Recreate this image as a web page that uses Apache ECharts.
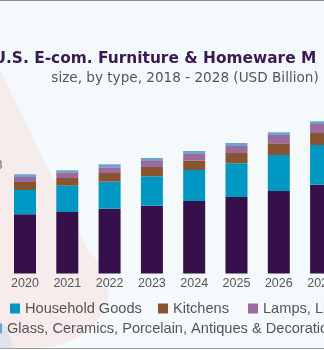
<!DOCTYPE html>
<html>
<head>
<meta charset="utf-8">
<script src="https://cdn.jsdelivr.net/npm/echarts@6/dist/echarts.min.js"></script>
<style>
  html, body { margin: 0; padding: 0; width: 324px; height: 350px; overflow: hidden; background: #f4f9fc; position: relative; }
  #chart { position: absolute; left: -100px; top: 0; width: 524px; height: 350px; }
</style>
</head>
<body>
<div id="chart"></div>
<script>
// Data (USD Billion)
var years = ['2018', '2019', '2020', '2021', '2022', '2023', '2024', '2025', '2026', '2027', '2028'];
var furniture = [54.0, 56.5, 59.2, 61.5, 64.8, 67.8, 72.5, 76.5, 82.5, 88.8, 95.5];
var household = [21.5, 23.0, 24.3, 26.3, 27.0, 29.4, 31.0, 33.7, 36.0, 39.7, 43.5];
var kitchens  = [7.2, 7.6, 8.0, 7.7, 8.7, 9.3, 9.3, 10.3, 11.7, 12.0, 13.0];
var lamps     = [4.5, 4.8, 5.0, 5.7, 5.7, 6.0, 6.7, 7.0, 8.3, 9.0, 9.8];
var glass     = [2.4, 2.5, 2.7, 2.0, 3.0, 3.0, 3.0, 3.0, 2.7, 2.7, 3.0];
var seriesNames = ['Furniture', 'Household Goods', 'Kitchens', 'Lamps, Lighting & Ceiling Fans',
                   'Glass, Ceramics, Porcelain, Antiques & Decorations'];
var seriesColors = ['#35104a', '#0097c3', '#875531', '#9c6b9e', '#6da3d3'];
var titleText = 'U.S. E-com. Furniture & Homeware Market';
var subtitleText = 'size, by type, 2018 - 2028 (USD Billion)';

var OX = 100; // container offset (page x = container x - OX)
var chart = echarts.init(document.getElementById('chart'), null, { renderer: 'canvas' });

var values = [furniture, household, kitchens, lamps, glass];
var series = values.map(function (arr, i) {
  return {
    name: seriesNames[i],
    type: 'bar',
    stack: 'total',
    barWidth: 22,
    data: arr,
    itemStyle: { color: seriesColors[i] },
    emphasis: { disabled: true }
  };
});

// title fitting: 'Furniture' starts at page x 98, 'M' of Market at page x 301
var titleFont = 'bold 16px "DejaVu Sans", sans-serif';
var mctx = document.createElement('canvas').getContext('2d');
mctx.font = titleFont;
var w1 = mctx.measureText('U.S. E-com. ').width;
var w2 = mctx.measureText('U.S. E-com. Furniture & Homeware ').width;
var tScale = (301 - 98) / (w2 - w1);
var tLeft = 98 - w1 * tScale;

var legendText = { fontSize: 14.6, color: '#555555', fontFamily: 'Liberation Sans, Arial, sans-serif' };
var legendLefts = [-85, 10, 158, 248, -8];
var legendTops = [301, 301, 301, 301, 321];
var legends = seriesNames.map(function (n, i) {
  return {
    data: [n], left: legendLefts[i] + OX, top: legendTops[i], padding: 0, width: 2000,
    itemWidth: 10, itemHeight: 10, itemGap: 20, icon: 'rect',
    textStyle: legendText, selectedMode: false
  };
});

chart.setOption({
  animation: false,
  backgroundColor: 'transparent',
  grid: { left: 19.25, width: 465.3, top: 93.5, height: 180 },
  xAxis: {
    type: 'category',
    data: years,
    axisLine: { show: false },
    axisTick: { show: false },
    axisLabel: { margin: 3.5, fontSize: 12.5, color: '#555555', fontFamily: 'Liberation Sans, Arial, sans-serif' }
  },
  yAxis: {
    type: 'value', min: 0, max: 180, show: false,
    splitLine: { show: false }
  },
  legend: legends,
  graphic: [
    { type: 'polygon', z: -10, silent: true,
      shape: { points: [[-80 + OX, -20], [-20 + OX, 30], [5 + OX, 80], [83 + OX, 240], [88 + OX, 250], [99 + OX, 262],
                        [106 + OX, 275], [109 + OX, 288], [107 + OX, 302], [101 + OX, 316], [91 + OX, 328],
                        [77 + OX, 338], [60 + OX, 345], [40 + OX, 348], [-80 + OX, 348]] },
      style: { fill: '#f6eceb' } },
    { type: 'polygon', z: -9, silent: true,
      shape: { points: [[0 + OX, 320], [8 + OX, 330], [13 + OX, 348], [0 + OX, 348]] },
      style: { fill: '#dfe3eb' } },
    { type: 'text', z: 10, x: tLeft + OX, y: 58.5, scaleX: tScale, silent: true,
      style: { text: titleText, align: 'left', verticalAlign: 'middle',
               font: titleFont, fill: '#3a1a52' } },
    { type: 'rect', z: 11, silent: true, shape: { x: 316 + OX, y: 44, width: 40, height: 26 }, style: { fill: '#f4f9fc' } },
    { type: 'text', z: 10, x: 185 + OX, y: 78, silent: true,
      style: { text: subtitleText, align: 'center', verticalAlign: 'middle',
               font: '13.6px "DejaVu Sans", sans-serif', fill: '#555555' } },
    { type: 'text', z: 10, x: 2.5 + OX, y: 166, silent: true,
      style: { text: '28', align: 'right', verticalAlign: 'middle',
               font: '12px "Liberation Sans", Arial, sans-serif', fill: '#666666' } },
    { type: 'rect', z: 12, silent: true, shape: { x: 0, y: 0, width: 524, height: 1 }, style: { fill: '#8a8a8a' } },
    { type: 'rect', z: 12, silent: true, shape: { x: 0, y: 348, width: 524, height: 1 }, style: { fill: '#a0a0a0' } },
    { type: 'rect', z: 12, silent: true, shape: { x: 0, y: 349, width: 524, height: 1 }, style: { fill: '#ffffff' } }
  ],
  series: series
});
</script>
</body>
</html>
